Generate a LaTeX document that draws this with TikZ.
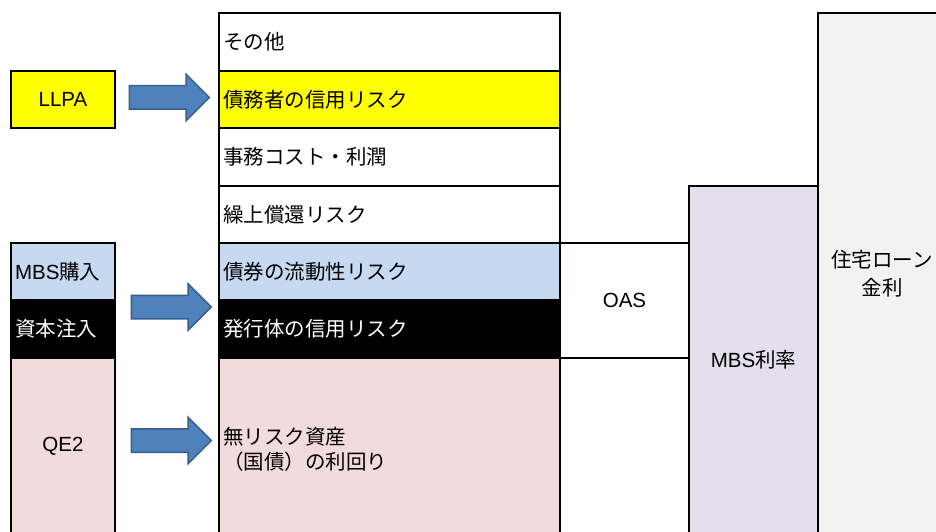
\documentclass[tikz,border=0pt]{standalone}
\usepackage{fontspec}
\setmainfont{Liberation Sans}
\newfontfamily\jp{Noto Sans CJK JP}
\usetikzlibrary{shapes.arrows}
\definecolor{cyellow}{HTML}{FFFF00}
\definecolor{cblue}{HTML}{C5D9F1}
\definecolor{cpink}{HTML}{F2DCDB}
\definecolor{clav}{HTML}{E4DFEC}
\definecolor{cgray}{HTML}{F2F2F2}
\definecolor{carrow}{HTML}{4F81BD}
\definecolor{carrowd}{HTML}{385D8A}
\begin{document}
\begin{tikzpicture}[x=1pt,y=-1pt,
  box/.style={draw=black, line width=2pt, rectangle, inner sep=0pt,
    font=\fontsize{20.5}{25}\selectfont},
  row/.style={box, minimum width=341pt, minimum height=#1,
    inner xsep=4pt, text width=333pt, align=left},
  lrow/.style={box, minimum width=104pt, minimum height=#1,
    inner xsep=4pt, text width=96pt, align=left},
  cbox/.style={box, align=center},
  barrow/.style={single arrow, draw=carrowd, fill=carrow, line width=1.5pt,
    minimum height=80pt, inner xsep=0pt, inner ysep=11pt,
    single arrow head extend=11.5pt, single arrow tip angle=90}
]
\useasboundingbox (0,0) rectangle (936,532);

% right columns
\node[cbox, fill=cgray, minimum width=128pt, minimum height=521pt,
  font=\fontsize{20.5}{28}\selectfont] (loan) at (882,273.5) {{\jp 住宅ローン}\\{\jp 金利}};
\node[cbox, fill=clav, minimum width=129pt, minimum height=348pt] (mbs) at (753.5,360) {MBS{\jp 利率}};
\node[cbox, minimum width=129pt, minimum height=115pt] (oas) at (624.5,300.5) {OAS};

% main stack
\node[row=58pt] (r1) at (389.5,42) {{\jp その他}};
\node[row=57pt, fill=cyellow] (r2) at (389.5,99.5) {{\jp 債務者の信用リスク}};
\node[row=58pt] (r3) at (389.5,157) {{\jp 事務コスト・利潤}};
\node[row=57pt] (r4) at (389.5,214.5) {{\jp 繰上償還リスク}};
\node[row=57pt, fill=cblue] (r5) at (389.5,271.5) {{\jp 債券の流動性リスク}};
\node[row=58pt, fill=black, text=white] (r6) at (389.5,329) {{\jp 発行体の信用リスク}};
\node[row=182pt, fill=cpink] (r7) at (389.5,449) {{\jp 無リスク資産}\\{\jp （国債）の利回り}};

% left column
\node[cbox, fill=cyellow, minimum width=104pt, minimum height=57pt] (llpa) at (63,99.5) {LLPA};
\node[lrow=57pt, fill=cblue] (mbsb) at (63,271.5) {MBS{\jp 購入}};
\node[lrow=58pt, fill=black, text=white] (cap) at (63,329) {{\jp 資本注入}};
\node[cbox, fill=cpink, minimum width=104pt, minimum height=176pt] (qe2) at (63,446) {QE2};

% block arrows
\node[barrow] (a1) at (163.5,97.5) {};
\node[barrow] (a2) at (165.5,307) {};
\node[barrow] (a3) at (165.5,440.5) {};
\end{tikzpicture}
\end{document}
